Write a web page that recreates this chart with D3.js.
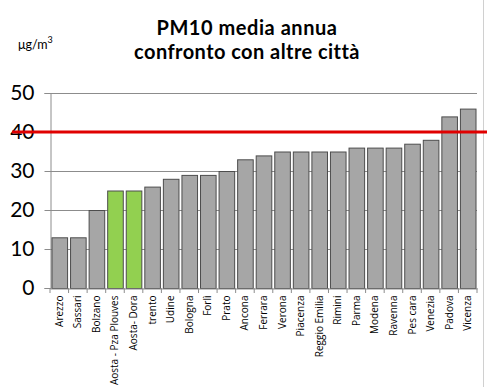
<!DOCTYPE html>
<html lang="it">
<head>
<meta charset="UTF-8">
<title>PM10 media annua</title>
<style>
  body { margin: 0; background: #fff; }
  svg { display: block; font-family: Lato, "Open Sans", sans-serif; }
</style>
</head>
<body>
<svg id="chart" width="487" height="387"></svg>
<script src="https://cdn.jsdelivr.net/npm/d3@7"></script>
<script>
  const cities = ["Arezzo", "Sassari", "Bolzano", "Aosta - Pza Plouves", "Aosta- Dora", "trento", "Udine",
    "Bologna", "Forlì", "Prato", "Ancona", "Ferrara", "Verona", "Piacenza", "Reggio Emilia", "Rimini",
    "Parma", "Modena", "Ravenna", "Pes cara", "Venezia", "Padova", "Vicenza"]
  const pm10 = [13, 13, 20, 25, 25, 26, 28, 29, 29, 30, 33, 34, 35, 35, 35, 35, 36, 36, 36, 37, 38, 44, 46]
  const highlighted = ["Aosta - Pza Plouves", "Aosta- Dora"]
  const yTicks = [0, 10, 20, 30, 40, 50]
  const limit = 40
  const titleLines = ["PM10 media annua", "confronto con altre città"]

  let svg = d3.select("#chart")
  let plotLeft = 50, plotRight = 477, plotTop = 93, plotBottom = 288

  let x = d3.scaleBand().domain(cities).range([plotLeft, plotRight]).paddingInner(0.16).paddingOuter(0.08)
  let y = d3.scaleLinear().domain([0, 50]).range([plotBottom, plotTop])

  // border on the right
  svg.append("line").attr("x1", 483.5).attr("x2", 483.5).attr("y1", 0).attr("y2", 387)
     .attr("stroke", "#d0d0d0")

  // title, spread to the width of the original (Calibri-like) lines
  let titleWidths = [181, 225]
  svg.append("g").selectAll("text").data(titleLines).enter().append("text")
     .attr("x", 247).attr("y", (d, i) => 35 + i * 24)
     .attr("text-anchor", "middle")
     .attr("font-size", 20).attr("font-weight", "bold")
     .text(d => d)
     .each(function (d, i) {
       let w = this.getComputedTextLength()
       if (w < titleWidths[i]) d3.select(this).attr("letter-spacing", (titleWidths[i] - w) / d.length)
     })

  let unit = svg.append("text").attr("x", 18).attr("y", 49).attr("font-size", 12.5)
  unit.append("tspan").text("μg/m")
  unit.append("tspan").attr("dy", -6).attr("font-size", 9).text("3")

  // gridlines
  svg.append("g").selectAll("line").data(yTicks.filter(d => d > 0)).enter().append("line")
     .attr("x1", plotLeft).attr("x2", plotRight)
     .attr("y1", d => y(d) + 0.5).attr("y2", d => y(d) + 0.5)
     .attr("stroke", "#8c8c8c")

  // y axis
  let yAxis = svg.append("g").attr("transform", `translate(${plotLeft + 0.5},0)`)
     .call(d3.axisLeft(y).tickValues(yTicks).tickSize(6).tickPadding(10))
  yAxis.select(".domain").attr("stroke", "#8c8c8c")
  yAxis.selectAll(".tick line").attr("stroke", "#8c8c8c")
  yAxis.selectAll("text").attr("font-size", 21).attr("fill", "#000")
       .attr("font-family", "Lato, 'Open Sans', sans-serif")

  // bars
  svg.append("g").selectAll("rect").data(cities).enter().append("rect")
     .attr("x", d => x(d) + 0.5)
     .attr("y", (d, i) => y(pm10[i]) + 0.5)
     .attr("width", x.bandwidth())
     .attr("height", (d, i) => plotBottom - y(pm10[i]))
     .attr("fill", d => highlighted.includes(d) ? "#92d050" : "#a6a6a6")
     .attr("stroke", "#4d4d4d")
     .attr("stroke-width", 1)

  // x axis
  let xAxis = svg.append("g").attr("transform", `translate(0,${plotBottom + 0.5})`)
     .call(d3.axisBottom(x).tickSize(0).tickPadding(0))
  xAxis.select(".domain").attr("stroke", "#8c8c8c")
  xAxis.selectAll("text")
       .attr("font-size", 10).attr("fill", "#000")
       .attr("font-family", "'Open Sans', sans-serif")
       .attr("transform", "rotate(-90)")
       .attr("text-anchor", "end")
       .attr("x", -7).attr("y", 0).attr("dy", "0.35em")

  // category boundary ticks
  let step = x.step()
  let bounds = d3.range(cities.length + 1).map(i => x(cities[0]) - x.paddingInner() * step / 2 + i * step)
  svg.append("g").selectAll("line").data(bounds).enter().append("line")
     .attr("x1", d => d).attr("x2", d => d)
     .attr("y1", plotBottom).attr("y2", plotBottom + 5)
     .attr("stroke", "#8c8c8c")

  // limit line
  svg.append("line").attr("x1", 12).attr("x2", 487)
     .attr("y1", y(limit)).attr("y2", y(limit))
     .attr("stroke", "#e00000").attr("stroke-width", 3)
</script>
</body>
</html>
